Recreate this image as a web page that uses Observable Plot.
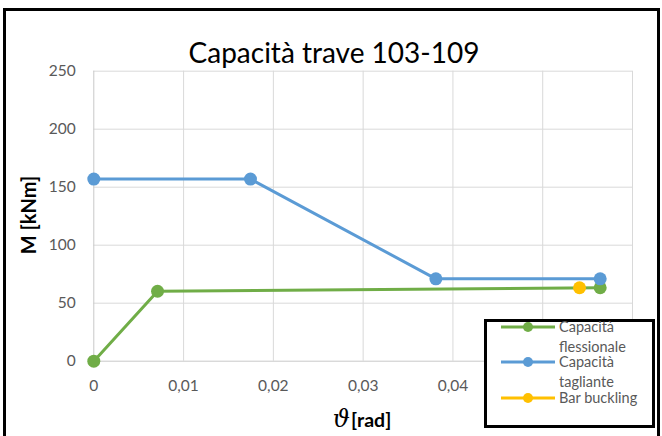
<!DOCTYPE html>
<html><head><meta charset="utf-8">
<script src="https://cdn.jsdelivr.net/npm/d3@7"></script>
<script src="https://cdn.jsdelivr.net/npm/@observablehq/plot@0.6"></script>
<style>
body{margin:0;background:#fff;}
#wrap{position:relative;width:662px;height:436px;overflow:hidden;font-family:Lato,"Open Sans",sans-serif;background:#fff;}
#wrap svg.plot{position:absolute;left:0;top:0;}
#border{position:absolute;left:3px;top:8px;width:651px;height:440px;border:3px solid #000;pointer-events:none;}
#title{position:absolute;left:0;width:668px;top:52px;transform:translateY(-50%);text-align:center;font-size:28px;line-height:1;color:#000;white-space:nowrap;}
#ylab{position:absolute;left:28px;top:215px;transform:translate(-50%,-50%) rotate(-90deg);font-size:20px;font-weight:bold;color:#000;white-space:nowrap;line-height:1;}
#xlab{position:absolute;left:362px;top:419px;transform:translate(-50%,-50%);font-size:19.5px;font-weight:bold;color:#000;white-space:nowrap;line-height:1;}
#xlab .th{font-family:"DejaVu Serif",serif;font-style:italic;font-weight:normal;font-size:24px;margin-right:1px;}
#legend{position:absolute;left:0;top:0;}
</style>
</head><body>
<div id="wrap">
  <div id="title">Capacità trave 103-109</div>
  <div id="ylab">M [kNm]</div>
  <div id="xlab"><span class="th">ϑ</span>[rad]</div>
  <div id="border"></div>
</div>
<script>
// Data
const flessX = [0, 0.0071, 0.0564];
const flessY = [0, 60.3, 63.3];
const taglX = [0, 0.01745, 0.0381, 0.0564];
const taglY = [157, 157, 71, 71];
const buckX = [0.0541];
const buckY = [63.3];
const xTicks = [0, 0.01, 0.02, 0.03, 0.04, 0.05, 0.06];
const xTickLabels = [0, 0.01, 0.02, 0.03, 0.04]; // 0,05 and 0,06 are hidden by the legend
const yTicks = [0, 50, 100, 150, 200, 250];
const seriesNames = ["Capacità flessionale", "Capacità tagliante", "Bar buckling"];
const seriesColors = ["#70AD47", "#5B9BD5", "#FFC000"];

const fless = flessX.map((x, i) => ({x, y: flessY[i]}));
const tagl = taglX.map((x, i) => ({x, y: taglY[i]}));
const buck = buckX.map((x, i) => ({x, y: buckY[i]}));
const fmt = d => d === 0 ? "0" : d.toFixed(2).replace(".", ",");

const chart = Plot.plot({
  width: 662, height: 436,
  marginLeft: 93.3, marginRight: 30, marginTop: 70.7, marginBottom: 75.3,
  x: {domain: [0, 0.06], axis: null},
  y: {domain: [0, 250], axis: null},
  style: {fontFamily: "Lato, 'Open Sans', sans-serif", background: "transparent", overflow: "visible"},
  marks: [
    Plot.gridX(xTicks.slice(1), {stroke: "#d9d9d9", strokeOpacity: 1, strokeWidth: 1}),
    Plot.gridY(yTicks.slice(1), {stroke: "#d9d9d9", strokeOpacity: 1, strokeWidth: 1}),
    Plot.ruleX([0], {stroke: "#c8c8c8", strokeWidth: 1}),
    Plot.ruleY([0], {stroke: "#c8c8c8", strokeWidth: 1}),
    Plot.axisX(xTickLabels, {tickSize: 0, tickPadding: 19, tickFormat: fmt, fill: "#595959", fontSize: 15.5, label: null}),
    Plot.axisY(yTicks, {tickSize: 0, tickPadding: 18, fill: "#595959", fontSize: 15.5, label: null}),
    Plot.line(fless, {x: "x", y: "y", stroke: seriesColors[0], strokeWidth: 3}),
    Plot.dot(fless, {x: "x", y: "y", fill: seriesColors[0], r: 6.5}),
    Plot.line(tagl, {x: "x", y: "y", stroke: seriesColors[1], strokeWidth: 3}),
    Plot.dot(tagl, {x: "x", y: "y", fill: seriesColors[1], r: 6.5}),
    Plot.line(buck, {x: "x", y: "y", stroke: seriesColors[2], strokeWidth: 3}),
    Plot.dot(buck, {x: "x", y: "y", fill: seriesColors[2], r: 6.5})
  ]
});
chart.classList.add("plot");
const wrap = document.getElementById("wrap");
wrap.insertBefore(chart, wrap.firstChild);

// Legend
const ns = "http://www.w3.org/2000/svg";
const lg = document.createElementNS(ns, "svg");
lg.setAttribute("id", "legend");
lg.setAttribute("width", 662); lg.setAttribute("height", 436);
const legendRows = [
  {lines: ["Capacità", "flessionale"], y: 327},
  {lines: ["Capacità", "tagliante"], y: 362},
  {lines: ["Bar buckling"], y: 398}
];
let html = `<rect x="485.5" y="320.5" width="168" height="106" fill="#fff" stroke="#000" stroke-width="3"/>`;
legendRows.forEach((r, i) => {
  html += `<line x1="501" x2="555" y1="${r.y}" y2="${r.y}" stroke="${seriesColors[i]}" stroke-width="3"/>`;
  html += `<circle cx="528" cy="${r.y}" r="5" fill="${seriesColors[i]}"/>`;
  r.lines.forEach((t, j) => {
    html += `<text x="559" y="${r.y + j * 19.5}" dy="0.35em" font-size="14.5" fill="#595959" font-family="Lato, 'Open Sans', sans-serif">${t}</text>`;
  });
});
lg.innerHTML = html;
wrap.insertBefore(lg, document.getElementById("border"));
</script>
</body></html>
